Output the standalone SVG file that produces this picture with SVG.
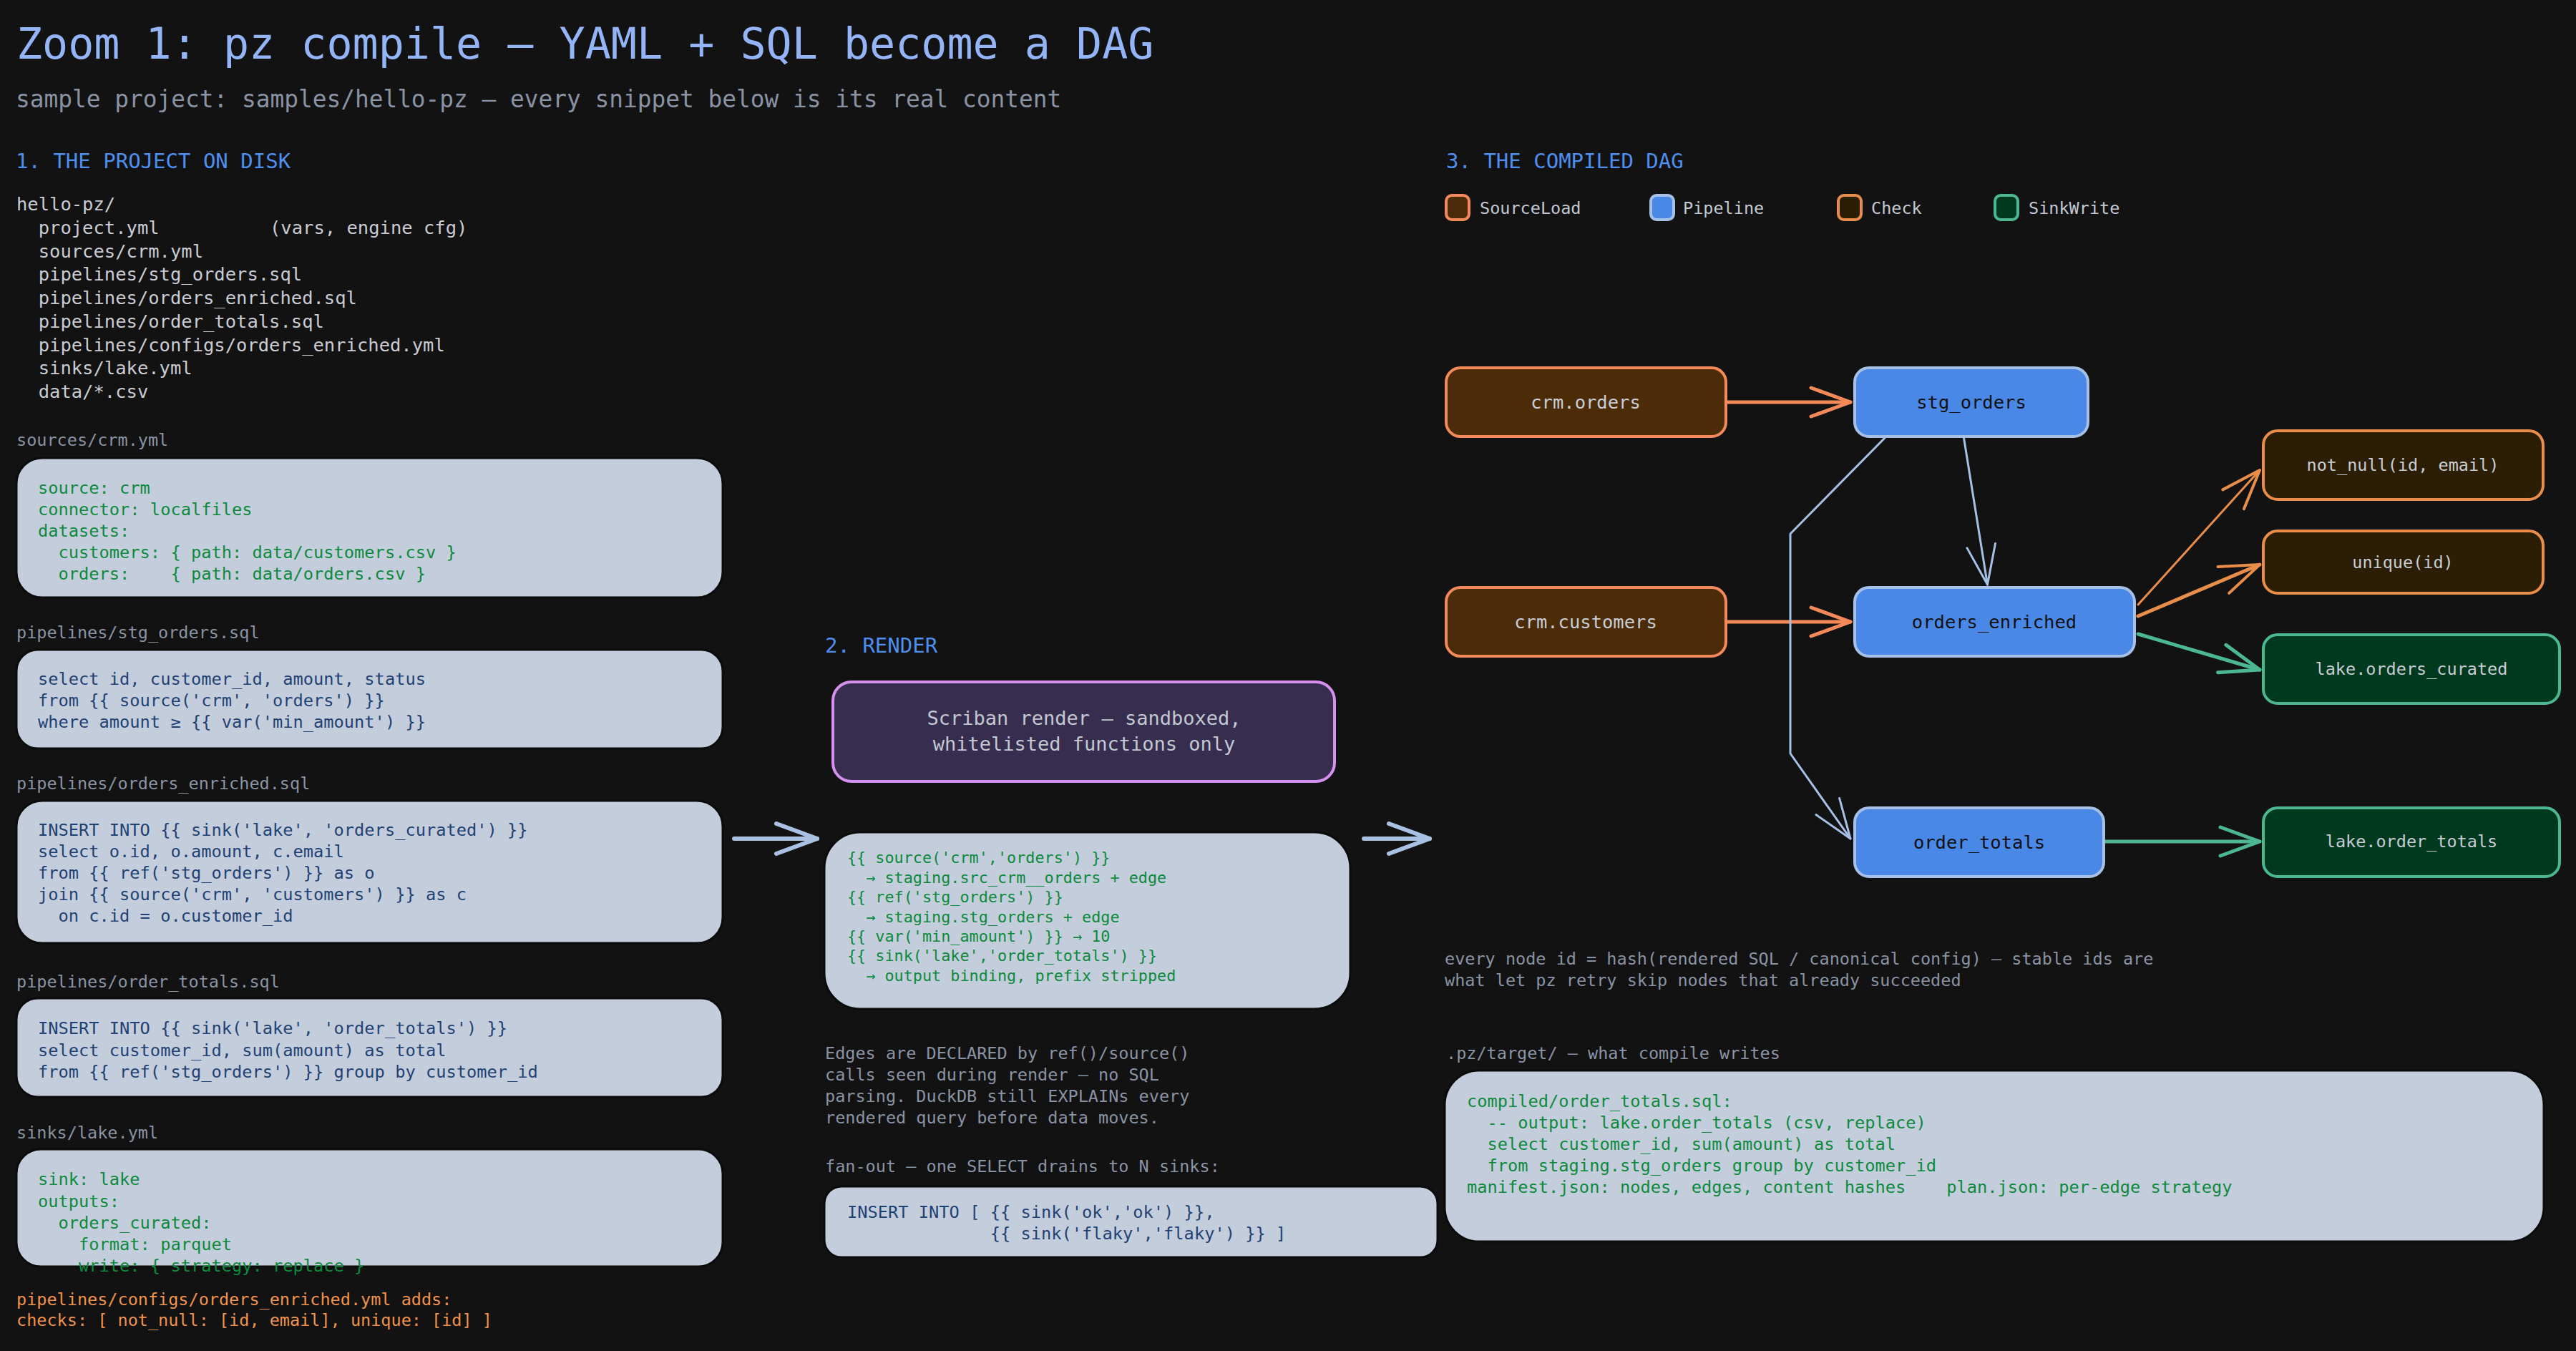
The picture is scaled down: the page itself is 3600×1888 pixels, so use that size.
<svg xmlns="http://www.w3.org/2000/svg" width="3600" height="1888" viewBox="0 0 3600 1888" xml:space="preserve">
<style>
text { font-family: "DejaVu Sans Mono", "Liberation Mono", monospace; white-space: pre; }
.title { font-size: 60px; fill: #93b4f6; }
.sub { font-size: 32.8px; fill: #8a93a3; }
.sec { font-size: 29px; fill: #4f8fef; }
.tree { font-size: 25.5px; fill: #c9ccd2; }
.lbl { font-size: 23.5px; fill: #8a93a3; }
.code { font-size: 23.7px; }
.rcode { font-size: 21.8px; }
.yaml { fill: #0d8a3c; }
.sql { fill: #1f4273; }
.orange { font-size: 23.5px; fill: #f0934c; }
.box { fill: #c4cddc; stroke: #0b0b0b; stroke-width: 3; }
.ntext { font-size: 25.5px; text-anchor: middle; }
.ntext2 { font-size: 23.5px; text-anchor: middle; fill: #c8ccd4; }
.src rect { fill: #4c2c08; stroke: #f4895a; stroke-width: 4; }
.pipe rect { fill: #4a88e8; stroke: #a7c0e6; stroke-width: 4; }
.chk rect { fill: #2b1e04; stroke: #e88e4a; stroke-width: 4; }
.snk rect { fill: #003a1e; stroke: #4cb892; stroke-width: 4; }
.src text { fill: #c8ccd4; }
.pipe text { fill: #111111; }
.legend { font-size: 23.5px; fill: #c3c8d2; }
.e { fill: none; stroke-linecap: round; stroke-linejoin: round; }
.eS { stroke: #f4895a; stroke-width: 5; marker-end: url(#aS); }
.eP { stroke: #a7c0e6; stroke-width: 3; marker-end: url(#aP); }
.eC { stroke: #e88e4a; marker-end: url(#aC); }
.eK { stroke: #4cb892; stroke-width: 5; marker-end: url(#aK); }
.big { stroke: #a9c1e2; stroke-width: 6; marker-end: url(#aB); }
</style>
<defs>
<marker id="aS" markerUnits="userSpaceOnUse" markerWidth="60" markerHeight="44" refX="55" refY="20" orient="auto" overflow="visible"><path d="M0,0 L55,20 L0,40" fill="none" stroke="#f4895a" stroke-width="5" stroke-linecap="round" stroke-linejoin="round"/></marker>
<marker id="aP" markerUnits="userSpaceOnUse" markerWidth="60" markerHeight="44" refX="55" refY="20" orient="auto" overflow="visible"><path d="M0,0 L55,20 L0,40" fill="none" stroke="#a7c0e6" stroke-width="3" stroke-linecap="round" stroke-linejoin="round"/></marker>
<marker id="aC" markerUnits="userSpaceOnUse" markerWidth="60" markerHeight="44" refX="55" refY="20" orient="auto" overflow="visible"><path d="M0,0 L55,20 L0,40" fill="none" stroke="#e88e4a" stroke-width="4" stroke-linecap="round" stroke-linejoin="round"/></marker>
<marker id="aK" markerUnits="userSpaceOnUse" markerWidth="60" markerHeight="44" refX="55" refY="20" orient="auto" overflow="visible"><path d="M0,0 L55,20 L0,40" fill="none" stroke="#4cb892" stroke-width="5" stroke-linecap="round" stroke-linejoin="round"/></marker>
<marker id="aB" markerUnits="userSpaceOnUse" markerWidth="62" markerHeight="46" refX="57" refY="21" orient="auto" overflow="visible"><path d="M0,0 L57,21 L0,42" fill="none" stroke="#a9c1e2" stroke-width="6" stroke-linecap="round" stroke-linejoin="round"/></marker>
</defs>
<rect x="0" y="0" width="3600" height="1888" fill="#121212"/>

<text class="title" x="23" y="82">Zoom 1: pz compile – YAML + SQL become a DAG</text>
<text class="sub" x="22" y="150">sample project: samples/hello-pz – every snippet below is its real content</text>

<!-- Section 1 -->
<g id="project-on-disk">
<text class="sec" x="22" y="235">1. THE PROJECT ON DISK</text>
<text class="tree" x="23" y="294">hello-pz/</text>
<text class="tree" x="23" y="326.5">  project.yml</text>
<text class="tree" x="377" y="326.5">(vars, engine cfg)</text>
<text class="tree" x="23" y="359.5">  sources/crm.yml</text>
<text class="tree" x="23" y="392">  pipelines/stg_orders.sql</text>
<text class="tree" x="23" y="425">  pipelines/orders_enriched.sql</text>
<text class="tree" x="23" y="458">  pipelines/order_totals.sql</text>
<text class="tree" x="23" y="490.5">  pipelines/configs/orders_enriched.yml</text>
<text class="tree" x="23" y="523">  sinks/lake.yml</text>
<text class="tree" x="23" y="556">  data/*.csv</text>
</g>

<g id="file-crm-yml">
<text class="lbl" x="23" y="623">sources/crm.yml</text>
<rect class="box" x="23" y="640" width="987" height="195" rx="36"/>
<text class="code yaml" x="53" y="690">source: crm</text>
<text class="code yaml" x="53" y="720">connector: localfiles</text>
<text class="code yaml" x="53" y="749.5">datasets:</text>
<text class="code yaml" x="53" y="779.5">  customers: { path: data/customers.csv }</text>
<text class="code yaml" x="53" y="809.5">  orders:    { path: data/orders.csv }</text>
</g>

<g id="file-stg-orders">
<text class="lbl" x="23" y="892">pipelines/stg_orders.sql</text>
<rect class="box" x="23" y="908" width="987" height="138" rx="30"/>
<text class="code sql" x="53" y="957">select id, customer_id, amount, status</text>
<text class="code sql" x="53" y="987">from {{ source('crm', 'orders') }}</text>
<text class="code sql" x="53" y="1017">where amount ≥ {{ var('min_amount') }}</text>
</g>

<g id="file-orders-enriched">
<text class="lbl" x="23" y="1103">pipelines/orders_enriched.sql</text>
<rect class="box" x="23" y="1119" width="987" height="199" rx="36"/>
<text class="code sql" x="53" y="1168">INSERT INTO {{ sink('lake', 'orders_curated') }}</text>
<text class="code sql" x="53" y="1198">select o.id, o.amount, c.email</text>
<text class="code sql" x="53" y="1228">from {{ ref('stg_orders') }} as o</text>
<text class="code sql" x="53" y="1258">join {{ source('crm', 'customers') }} as c</text>
<text class="code sql" x="53" y="1288">  on c.id = o.customer_id</text>
</g>

<g id="file-order-totals">
<text class="lbl" x="23" y="1380">pipelines/order_totals.sql</text>
<rect class="box" x="23" y="1395" width="987" height="138" rx="30"/>
<text class="code sql" x="53" y="1445">INSERT INTO {{ sink('lake', 'order_totals') }}</text>
<text class="code sql" x="53" y="1475.5">select customer_id, sum(amount) as total</text>
<text class="code sql" x="53" y="1506">from {{ ref('stg_orders') }} group by customer_id</text>
</g>

<g id="file-lake-yml">
<text class="lbl" x="23" y="1591">sinks/lake.yml</text>
<rect class="box" x="23" y="1606" width="987" height="164" rx="34"/>
<text class="code yaml" x="53" y="1656">sink: lake</text>
<text class="code yaml" x="53" y="1686.5">outputs:</text>
<text class="code yaml" x="53" y="1717">  orders_curated:</text>
<text class="code yaml" x="53" y="1747">    format: parquet</text>
<text class="code yaml" x="53" y="1777">    write: { strategy: replace }</text>
</g>

<g id="checks-note">
<text class="orange" x="23" y="1823.5">pipelines/configs/orders_enriched.yml adds:</text>
<text class="orange" x="23" y="1853">checks: [ not_null: [id, email], unique: [id] ]</text>
</g>

<!-- Section 2 -->
<g id="render">
<text class="sec" x="1153" y="912">2. RENDER</text>
<rect x="1164" y="953" width="701" height="139" rx="26" fill="#372e4f" stroke="#d690f0" stroke-width="4"/>
<text x="1515" y="1013" font-size="27" fill="#c3c8d2" text-anchor="middle">Scriban render – sandboxed,</text>
<text x="1515" y="1049" font-size="27" fill="#c3c8d2" text-anchor="middle">whitelisted functions only</text>
</g>

<g id="render-output">
<rect class="box" x="1152" y="1163" width="735" height="247" rx="50"/>
<text class="rcode yaml" x="1184" y="1206">{{ source('crm','orders') }}</text>
<text class="rcode yaml" x="1184" y="1233.5">  → staging.src_crm__orders + edge</text>
<text class="rcode yaml" x="1184" y="1261">{{ ref('stg_orders') }}</text>
<text class="rcode yaml" x="1184" y="1288.5">  → staging.stg_orders + edge</text>
<text class="rcode yaml" x="1184" y="1316">{{ var('min_amount') }} → 10</text>
<text class="rcode yaml" x="1184" y="1343">{{ sink('lake','order_totals') }}</text>
<text class="rcode yaml" x="1184" y="1370.5">  → output binding, prefix stripped</text>
</g>

<g id="render-notes">
<text class="lbl" x="1153" y="1480">Edges are DECLARED by ref()/source()</text>
<text class="lbl" x="1153" y="1510">calls seen during render – no SQL</text>
<text class="lbl" x="1153" y="1540">parsing. DuckDB still EXPLAINs every</text>
<text class="lbl" x="1153" y="1570">rendered query before data moves.</text>
<text class="lbl" x="1153" y="1638">fan-out – one SELECT drains to N sinks:</text>
</g>

<g id="fan-out">
<rect class="box" x="1152" y="1658" width="857" height="99" rx="24"/>
<text class="code sql" x="1184" y="1702">INSERT INTO [ {{ sink('ok','ok') }},</text>
<text class="code sql" x="1184" y="1732">              {{ sink('flaky','flaky') }} ]</text>
</g>

<!-- Section 3 -->
<text class="sec" x="2021" y="235">3. THE COMPILED DAG</text>
<g id="legend">
<g class="src"><rect x="2021" y="273" width="32" height="34" rx="8"/></g>
<text class="legend" x="2068" y="299">SourceLoad</text>
<g class="pipe"><rect x="2307" y="273" width="32" height="34" rx="8"/></g>
<text class="legend" x="2352" y="299">Pipeline</text>
<g class="chk"><rect x="2569" y="273" width="32" height="34" rx="8"/></g>
<text class="legend" x="2615" y="299">Check</text>
<g class="snk"><rect x="2788" y="273" width="32" height="34" rx="8"/></g>
<text class="legend" x="2835" y="299">SinkWrite</text>
</g>

<g id="connectors">
<path class="e eS" d="M2414,562 L2586,562"/>
<path class="e eS" d="M2414,869 L2586,869"/>
<path class="e eP" d="M2744.5,612 L2777.5,817"/>
<path class="e eP" d="M2634,612 L2502,746 L2502,1053 L2586,1172"/>
<path class="e eC" stroke-width="3" d="M2988,845 L3158,657"/>
<path class="e eC" stroke-width="5" d="M2988,861 L3158,789"/>
<path class="e eK" d="M2988,886 L3158,936"/>
<path class="e eK" d="M2942,1176 L3158,1176"/>
<path class="e big" d="M1026,1172 L1142,1172"/>
<path class="e big" d="M1906,1172 L1998,1172"/>
</g>

<g id="node-crm-orders" class="src">
<rect x="2021" y="514" width="391" height="96" rx="20"/>
<text class="ntext" x="2216" y="571">crm.orders</text>
</g>
<g id="node-stg-orders" class="pipe">
<rect x="2592" y="514" width="326" height="96" rx="20"/>
<text class="ntext" x="2755" y="571">stg_orders</text>
</g>
<g id="node-crm-customers" class="src">
<rect x="2021" y="821" width="391" height="96" rx="20"/>
<text class="ntext" x="2216" y="878">crm.customers</text>
</g>
<g id="node-orders-enriched" class="pipe">
<rect x="2592" y="821" width="391" height="96" rx="20"/>
<text class="ntext" x="2787" y="878">orders_enriched</text>
</g>
<g id="node-order-totals" class="pipe">
<rect x="2592" y="1129" width="348" height="96" rx="20"/>
<text class="ntext" x="2766" y="1186">order_totals</text>
</g>
<g id="node-not-null" class="chk">
<rect x="3163" y="602" width="391" height="96" rx="20"/>
<text class="ntext2" x="3358" y="658">not_null(id, email)</text>
</g>
<g id="node-unique" class="chk">
<rect x="3163" y="742" width="391" height="87" rx="20"/>
<text class="ntext2" x="3358" y="794">unique(id)</text>
</g>
<g id="node-lake-orders-curated" class="snk">
<rect x="3163" y="887" width="414" height="96" rx="20"/>
<text class="ntext2" x="3370" y="943">lake.orders_curated</text>
</g>
<g id="node-lake-order-totals" class="snk">
<rect x="3163" y="1129" width="414" height="96" rx="20"/>
<text class="ntext2" x="3370" y="1184">lake.order_totals</text>
</g>

<g id="dag-note">
<text class="lbl" x="2019" y="1348">every node id = hash(rendered SQL / canonical config) – stable ids are</text>
<text class="lbl" x="2019" y="1378">what let pz retry skip nodes that already succeeded</text>
</g>

<g id="target">
<text class="lbl" x="2021" y="1480">.pz/target/ – what compile writes</text>
<rect class="box" x="2019" y="1496" width="1536" height="239" rx="48"/>
<text class="code yaml" x="2050" y="1547">compiled/order_totals.sql:</text>
<text class="code yaml" x="2050" y="1577">  -- output: lake.order_totals (csv, replace)</text>
<text class="code yaml" x="2050" y="1607">  select customer_id, sum(amount) as total</text>
<text class="code yaml" x="2050" y="1637">  from staging.stg_orders group by customer_id</text>
<text class="code yaml" x="2050" y="1667">manifest.json: nodes, edges, content hashes    plan.json: per-edge strategy</text>
</g>
</svg>
